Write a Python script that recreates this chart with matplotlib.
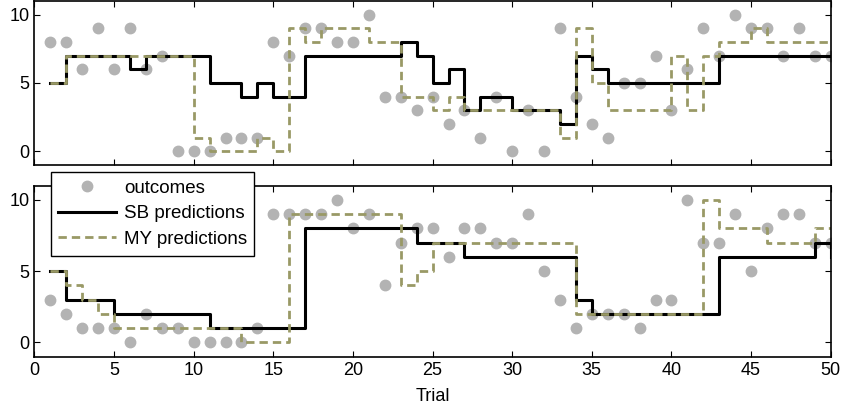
import numpy as np
import matplotlib
matplotlib.use('Agg')
from matplotlib import pyplot as plt

plt.rcParams['font.family'] = ['Liberation Sans', 'DejaVu Sans']

trials = np.arange(1, 51)

top_outcomes = [8, 8, 6, 9, 6, 9, 6, 7, 0, 0, 0, 1, 1, 1, 8, 7, 9, 9, 8, 8,
                10, 4, 4, 3, 4, 2, 3, 1, 4, 0, 3, 0, 9, 4, 2, 1, 5, 5, 7, 3,
                6, 9, 7, 10, 9, 9, 7, 9, 7, 7]
top_sb = [5, 7, 7, 7, 7, 6, 7, 7, 7, 7, 5, 5, 4, 5, 4, 4, 7, 7, 7, 7,
          7, 7, 8, 7, 5, 6, 3, 4, 4, 3, 3, 3, 2, 7, 6, 5, 5, 5, 5, 5,
          5, 5, 7, 7, 7, 7, 7, 7, 7, 7]
top_my = [5, 7, 7, 7, 7, 7, 7, 7, 7, 1, 0, 0, 0, 1, 0, 9, 8, 9, 9, 9,
          8, 8, 4, 4, 3, 4, 3, 3, 3, 3, 3, 3, 1, 9, 5, 3, 3, 3, 3, 7,
          3, 7, 8, 8, 9, 8, 8, 8, 8, 8]

bot_outcomes = [3, 2, 1, 1, 1, 0, 2, 1, 1, 0, 0, 0, 0, 1, 9, 9, 9, 9, 10, 8,
                9, 4, 7, 8, 8, 6, 8, 8, 7, 7, 9, 5, 3, 1, 2, 2, 2, 1, 3, 3,
                10, 7, 7, 9, 5, 8, 9, 9, 7, 7]
bot_sb = [5, 3, 3, 3, 2, 2, 2, 2, 2, 2, 1, 1, 1, 1, 1, 1, 8, 8, 8, 8,
          8, 8, 8, 7, 7, 7, 6, 6, 6, 6, 6, 6, 6, 3, 2, 2, 2, 2, 2, 2,
          2, 2, 6, 6, 6, 6, 6, 6, 7, 6]
bot_my = [5, 4, 3, 2, 1, 1, 1, 1, 1, 1, 1, 1, 0, 0, 0, 9, 9, 9, 9, 9,
          9, 9, 4, 5, 7, 7, 7, 7, 7, 7, 7, 7, 7, 2, 2, 2, 2, 2, 2, 2,
          2, 10, 8, 8, 8, 7, 7, 7, 8, 8]

gray = (0.7, 0.7, 0.7)
olive = (0.6, 0.6, 0.4)

fig = plt.figure(figsize=(8.43, 4.09), dpi=100)
ax1 = fig.add_axes([0.0409, 0.5966, 0.9445, 0.401])
ax2 = fig.add_axes([0.0409, 0.1279, 0.9445, 0.418])

for ax, outc, sb, my in [(ax1, top_outcomes, top_sb, top_my),
                         (ax2, bot_outcomes, bot_sb, bot_my)]:
    ax.plot(trials, outc, 'o', color=gray, markersize=7.5, label='outcomes')
    ax.step(trials, sb, where='post', color='k', lw=2.2, label='SB predictions')
    ax.step(trials, my, where='post', color=olive, lw=2.0, ls=(0, (3, 1.8)),
            label='MY predictions')
    ax.set_xlim(0, 50)
    ax.set_ylim(-1, 11)
    ax.set_xticks(range(0, 51, 5))
    ax.set_yticks([0, 5, 10])
    ax.tick_params(direction='in', length=4, width=0.8, labelsize=13,
                   top=True, right=True)
    for s in ax.spines.values():
        s.set_linewidth(1.2)

ax1.tick_params(labelbottom=False)
ax2.set_xlabel('Trial', fontsize=13, labelpad=7)

leg = ax2.legend(loc='upper left', bbox_to_anchor=(0.0601, 0.5787),
                 bbox_transform=fig.transFigure, borderaxespad=0,
                 fontsize=13.5, frameon=True, fancybox=False, framealpha=1,
                 edgecolor='k', handlelength=3.1, labelspacing=0.45,
                 borderpad=0.4, handletextpad=0.4)
leg.get_frame().set_linewidth(1.0)

plt.savefig('out.png', dpi=100)
